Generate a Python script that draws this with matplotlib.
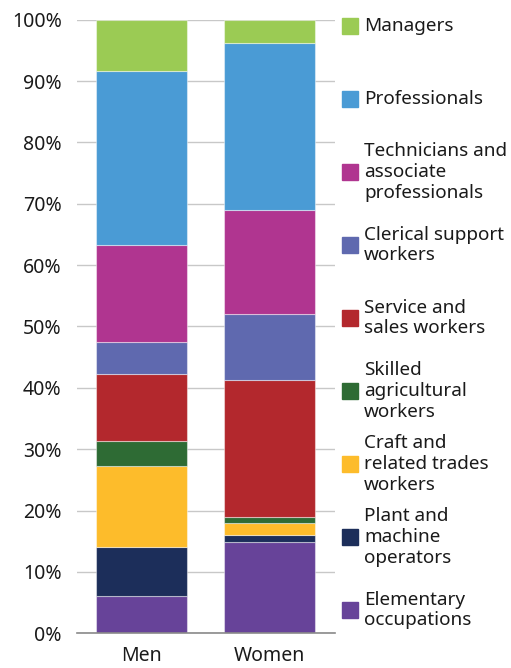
import matplotlib
matplotlib.use("Agg")
from matplotlib import pyplot as plt
from matplotlib.patches import Rectangle
import numpy as np

plt.rcParams['font.family'] = ['Noto Sans', 'DejaVu Sans']

groups = ["Men", "Women"]

# bottom to top
occupations = ["Elementary occupations", "Plant and machine operators",
               "Craft and related trades workers", "Skilled agricultural workers",
               "Service and sales workers", "Clerical support workers",
               "Technicians and associate professionals", "Professionals", "Managers"]
legend_labels = ["Elementary\noccupations", "Plant and\nmachine\noperators",
                 "Craft and\nrelated trades\nworkers", "Skilled\nagricultural\nworkers",
                 "Service and\nsales workers", "Clerical support\nworkers",
                 "Technicians and\nassociate\nprofessionals", "Professionals", "Managers"]
men = [6.0, 8.1, 13.1, 4.2, 10.8, 5.2, 15.9, 28.4, 8.3]
women = [14.8, 1.2, 2.0, 1.0, 22.2, 10.8, 16.9, 27.35, 3.75]
colors = ["#674399", "#1c2e5a", "#fdbc2b", "#2e6b34", "#b3282d",
          "#5f69af", "#b03590", "#4a9bd5", "#9bcb54"]

fig = plt.figure(figsize=(5.11, 6.68), dpi=100)
ax = fig.add_axes([0.1507, 0.052, 0.505, 0.9186])

x = np.arange(len(groups))
bottom = np.zeros(len(groups))
for i in range(len(occupations)):
    vals = np.array([men[i], women[i]])
    ax.bar(x, vals, 0.71, bottom=bottom, color=colors[i],
           edgecolor=(1, 1, 1, 0.45), linewidth=0.8, zorder=3)
    bottom += vals

ax.set_xlim(-0.504, 1.51)
ax.set_ylim(0, 100)
ax.set_yticks(np.arange(0, 101, 10))
ax.set_yticklabels([f"{t}%" for t in range(0, 101, 10)])
ax.set_xticks(x)
ax.set_xticklabels(groups)
ax.tick_params(axis='y', length=0, pad=11, labelsize=14, colors='#1a1a1a')
ax.tick_params(axis='x', length=0, pad=9, labelsize=14, colors='#1a1a1a')
ax.grid(axis='y', color='#c8c8c8', linewidth=1, zorder=0)
for s in ['left', 'right', 'top']:
    ax.spines[s].set_visible(False)
ax.spines['bottom'].set_color('#8a8a8a')
ax.spines['bottom'].set_linewidth(1.2)
ax.spines['bottom'].set_zorder(4)

# legend, top to bottom, evenly spaced
W, H = 511, 668
for k, i in enumerate(range(len(occupations) - 1, -1, -1)):
    yc = 26 + 73 * k
    fig.patches.append(Rectangle((342 / W, 1 - (yc + 8) / H), 16 / W, 16 / H,
                                 transform=fig.transFigure, color=colors[i]))
    fig.text(364 / W, 1 - yc / H, legend_labels[i], ha='left', va='center',
             fontsize=13.6, color='#1a1a1a', linespacing=1.2)

fig.savefig("out.png", dpi=100)
